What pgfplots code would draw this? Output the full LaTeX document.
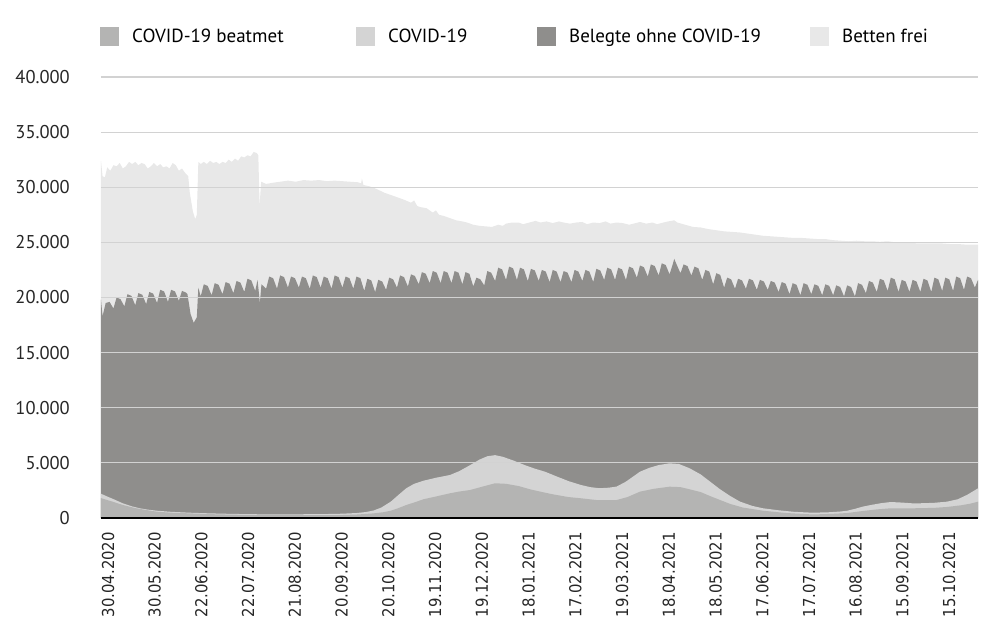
\documentclass[border=0pt]{standalone}
\usepackage{fontspec}
\setmainfont{PT Sans}
\newfontfamily\xfont{DejaVu Sans Condensed}
\usepackage{pgfplots}
\pgfplotsset{compat=1.18}
\definecolor{cBeat}{HTML}{B4B4B3}
\definecolor{cCov}{HTML}{D4D4D4}
\definecolor{cBel}{HTML}{8F8E8C}
\definecolor{cFrei}{HTML}{E8E8E8}
\definecolor{cGrid}{HTML}{D2D2D2}
\begin{document}
\begin{tikzpicture}
\useasboundingbox (-101pt,-121pt) rectangle (899pt,518pt);
\begin{axis}[
  at={(0,0)}, anchor=south west,
  scale only axis, width=877pt, height=441pt,
  xmin=0, xmax=563, ymin=0, ymax=40000,
  axis on top,
  axis lines*=left,
  y axis line style={draw=none},
  x axis line style={black, line width=2pt},
  major tick length=0pt,
  scaled y ticks=false,
  ymajorgrids, grid style={cGrid, line width=1.2pt},
  ytick={0,5000,10000,15000,20000,25000,30000,35000,40000},
  yticklabels={0,5.000,10.000,15.000,20.000,25.000,30.000,35.000,40.000},
  yticklabel style={font=\fontsize{18.5}{22}\selectfont, anchor=east, inner sep=0pt, text=black!85},
  yticklabel shift=31pt,
  xtick={4.5,34.5,64.5,94.5,124.5,154.5,184.5,214.5,244.5,274.5,304.5,334.5,364.5,394.5,424.5,454.5,484.5,514.5,544.5},
  xticklabels={30.04.2020,30.05.2020,22.06.2020,22.07.2020,21.08.2020,20.09.2020,20.10.2020,19.11.2020,19.12.2020,18.01.2021,17.02.2021,19.03.2021,18.04.2021,18.05.2021,17.06.2021,17.07.2021,16.08.2021,15.09.2021,15.10.2021},
  xticklabel style={font=\xfont\fontsize{16.5}{20}\selectfont, rotate=90, anchor=east, inner sep=0pt, text=black!85},
  xticklabel shift=14pt,
  legend columns=4,
  legend image code/.code={\fill[#1, draw=none] (0pt,-9.5pt) rectangle (19pt,9.5pt);},
  legend style={at={(axis description cs:0,1)}, anchor=west, xshift=-1pt, yshift=40.5pt,
    draw=none, fill=none, inner sep=0pt,
    font=\fontsize{19}{23}\selectfont,
    nodes={inner sep=0pt},
    /tikz/every odd column/.append style={column sep=13pt},
    /tikz/every even column/.append style={column sep=0pt}},
  legend cell align=left,
]
\addlegendimage{fill=cBeat, draw=none}
\addlegendentry{\makebox[224pt][l]{COVID-19 beatmet}}
\addlegendimage{fill=cCov, draw=none}
\addlegendentry{\makebox[149pt][l]{COVID-19}}
\addlegendimage{fill=cBel, draw=none}
\addlegendentry{\makebox[241pt][l]{Belegte ohne COVID-19}}
\addlegendimage{fill=cFrei, draw=none}
\addlegendentry{Betten frei}

% Total beds (top of "Betten frei")
\addplot[fill=cFrei, draw=none, forget plot] coordinates {
(0,32400) (1,31000) (2.5,30900) (4,31800) (6,31500) (8,32000) (10,31900) (12,32200) (14,31700) (16,31900) (18,32300) (20,32100) (22,32300) (24,32000) (26,32200) (28,32100) (30,31700) (32,31900) (34,32200) (36,31900) (38,32100) (40,31800) (42,31900) (44,31700) (46,32200) (48,32000) (50,31500) (52,31700) (54,31300) (56,31000) (57,29500) (59,27800) (60.5,27100) (61.5,27500) (62.5,32300) (64,32100) (66,32300) (68,32100) (70,32400) (72,32200) (74,32300) (76,32100) (78,32300) (80,32200) (82,32500) (84,32300) (86,32600) (88,32400) (90,32800) (92,32700) (94,32900) (96,32800) (98,33200) (100,33100) (101,32900) (101.8,28300) (102.8,30500) (106,30300) (110,30400) (115,30500) (120,30600) (125,30500) (130,30650) (135,30600) (140,30650) (145,30550) (150,30600) (155,30550) (160,30500) (165,30450) (167,30350) (167.5,30800) (168.5,30200) (172,30100) (176,29900) (182,29500) (186,29300) (190,29100) (194,28900) (199,28600) (201,28800) (203,28300) (205,28200) (209,28100) (213,27700) (215,27900) (217,27500) (220,27400) (224,27200) (228,27000) (232,26900) (235,26800) (239,26600) (243,26500) (247,26450) (251,26400) (255,26600) (258,26500) (260,26700) (264,26800) (268,26800) (271,26650) (275,26800) (279,26950) (282,26800) (286,26900) (290,26750) (294,26900) (297,26800) (301,26700) (305,26800) (309,26850) (312,26650) (316,26800) (320,26750) (324,26900) (327,26700) (331,26800) (335,26750) (339,26600) (342,26700) (346,26850) (350,26700) (354,26800) (357,26650) (361,26800) (364,26900) (368,27000) (370,26800) (375,26600) (380,26400) (385,26350) (390,26200) (395,26100) (400,26000) (405,25950) (410,25900) (415,25800) (420,25700) (425,25600) (430,25550) (435,25500) (440,25450) (445,25400) (450,25400) (455,25350) (460,25300) (465,25300) (470,25200) (475,25150) (480,25100) (485,25150) (490,25100) (495,25100) (500,25050) (505,25100) (510,25000) (515,25000) (520,24950) (525,24900) (530,24900) (535,24900) (540,24900) (545,24850) (550,24850) (555,24800) (560,24800) (563,24800)
} \closedcycle;

% Occupied beds (top of "Belegte ohne COVID-19")
\addplot[fill=cBel, draw=none, forget plot] coordinates {
(0,19800) (1,18300) (3,19500) (5.5,19600)
(8,19000) (10,20000) (12.5,19850)
(15,19200) (17,20300) (19.5,20150)
(22,19300) (24,20400) (26.5,20250)
(29,19400) (31,20500) (33.5,20350)
(36,19500) (38,20700) (40.5,20550)
(43,19600) (45,20700) (47.5,20550)
(50,19700) (52,20600) (54.5,20450)
(55.5,20300) (57.5,18500) (59.5,17700) (61.5,18200) (62.5,20900)
(64,20100) (66,21200) (68.5,21050)
(71,20200) (73,21300) (75.5,21150)
(78,20300) (80,21400) (82.5,21250)
(85,20400) (87,21500) (89.5,21350)
(92,20500) (94,21700) (96.5,21550)
(99,20600) (100.5,21600) (102,19500) (103,21200)
(106,20800) (108,21900) (110.5,21750)
(113,20800) (115,22000) (117.5,21850)
(120,20900) (122,21900) (124.5,21750)
(127,20900) (129,21900) (131.5,21750)
(134,20800) (136,22000) (138.5,21850)
(141,20900) (143,21900) (145.5,21750)
(148,20800) (150,22000) (152.5,21850)
(155,20900) (157,21900) (159.5,21750)
(162,20800) (164,21900) (166.5,21750)
(169,20600) (171,21700) (173.5,21550)
(176,20500) (178,21600) (180.5,21450)
(183,20700) (185,21800) (187.5,21650)
(190,20900) (192,22000) (194.5,21850)
(197,21000) (199,22100) (201.5,21950)
(204,21200) (206,22300) (208.5,22150)
(211,21300) (213,22400) (215.5,22250)
(218,21300) (220,22400) (222.5,22250)
(225,21300) (227,22400) (229.5,22250)
(232,21200) (234,22300) (236.5,22150)
(239,21000) (241,21800) (243.5,21650)
(246,21100) (248,22400) (250.5,22250)
(253,21500) (255,22700) (257.5,22550)
(260,21600) (262,22800) (264.5,22650)
(267,21600) (269,22700) (271.5,22550)
(274,21500) (276,22600) (278.5,22450)
(281,21500) (283,22500) (285.5,22350)
(288,21400) (290,22500) (292.5,22350)
(295,21400) (297,22400) (299.5,22250)
(302,21400) (304,22500) (306.5,22350)
(309,21500) (311,22500) (313.5,22350)
(316,21400) (318,22600) (320.5,22450)
(323,21600) (325,22700) (327.5,22550)
(330,21600) (332,22700) (334.5,22550)
(337,21600) (339,22800) (341.5,22650)
(344,21800) (346,22900) (348.5,22750)
(351,21900) (353,23000) (355.5,22850)
(358,22000) (360,23100) (362.5,22950)
(365,22100) (367,23000) (368,23500) (369.5,23000)
(372,22200) (374,23000) (376.5,22850)
(379,22000) (381,22800) (383.5,22650)
(386,21600) (388,22500) (390.5,22350)
(393,21200) (395,22200) (397.5,22050)
(400,20900) (402,21800) (404.5,21650)
(407,20800) (409,21700) (411.5,21550)
(414,20800) (416,21700) (418.5,21550)
(421,20700) (423,21600) (425.5,21450)
(428,20700) (430,21500) (432.5,21350)
(435,20500) (437,21400) (439.5,21250)
(442,20300) (444,21300) (446.5,21150)
(449,20200) (451,21300) (453.5,21150)
(456,20300) (458,21200) (460.5,21050)
(463,20200) (465,21200) (467.5,21050)
(470,20200) (472,21100) (474.5,20950)
(477,20100) (479,21100) (481.5,20950)
(484,20100) (486,21300) (488.5,21150)
(491,20400) (493,21500) (495.5,21350)
(498,20500) (500,21700) (502.5,21550)
(505,20600) (507,21800) (509.5,21650)
(512,20500) (514,21600) (516.5,21450)
(519,20500) (521,21600) (523.5,21450)
(526,20500) (528,21700) (530.5,21550)
(533,20500) (535,21800) (537.5,21650)
(540,20600) (542,21800) (544.5,21650)
(547,20600) (549,21900) (551.5,21750)
(554,20700) (556,21900) (558.5,21750)
(561,20900) (563,21600)
} \closedcycle;

% COVID-19 total
\addplot[fill=cCov, draw=none, forget plot] coordinates {
(0,2200) (4,1950) (9,1650) (14,1330) (20,1050) (25,880) (30,760) (36,660) (45,560) (57,480) (70,420) (85,370) (100,340) (115,330) (130,340) (145,360) (155,390) (164,450) (170,540) (175,680) (180,950) (186,1480) (191,2100) (196,2700) (201,3100) (207,3380) (215,3650) (224,3900) (230,4250) (237,4800) (243,5300) (248,5600) (253,5700) (258,5550) (265,5200) (272,4800) (278,4500) (285,4200) (292,3800) (300,3350) (308,3000) (314,2800) (320,2700) (326,2750) (331,2850) (337,3300) (342,3800) (346,4200) (352,4550) (358,4800) (365,4960) (371,4900) (378,4500) (385,3950) (391,3300) (397,2650) (404,1990) (410,1500) (418,1100) (425,880) (435,700) (445,560) (457,480) (467,520) (474,580) (479,660) (484,830) (489,1030) (495,1200) (501,1350) (507,1450) (514,1400) (521,1330) (528,1340) (535,1380) (543,1480) (550,1700) (556,2100) (563,2690)
} \closedcycle;

% COVID-19 ventilated
\addplot[fill=cBeat, draw=none, forget plot] coordinates {
(0,1800) (7,1500) (14,1180) (22,900) (30,700) (36,570) (45,480) (57,420) (70,350) (85,300) (100,270) (120,250) (140,250) (155,270) (165,320) (175,420) (181,520) (186,660) (191,900) (196,1180) (202,1450) (207,1700) (215,1950) (224,2240) (230,2400) (237,2540) (245,2850) (253,3150) (260,3100) (268,2900) (275.5,2600) (282,2390) (290,2150) (300,1900) (308,1790) (318,1630) (331,1630) (338,1900) (346,2390) (355,2650) (365,2840) (372,2800) (378,2600) (385,2350) (391,1990) (398,1600) (404,1270) (412,950) (425,660) (440,450) (457,320) (470,380) (479,450) (489,635) (498,780) (507,880) (521.5,880) (535,920) (543,1000) (552,1150) (558,1300) (563,1480)
} \closedcycle;
\end{axis}
\end{tikzpicture}
\end{document}
